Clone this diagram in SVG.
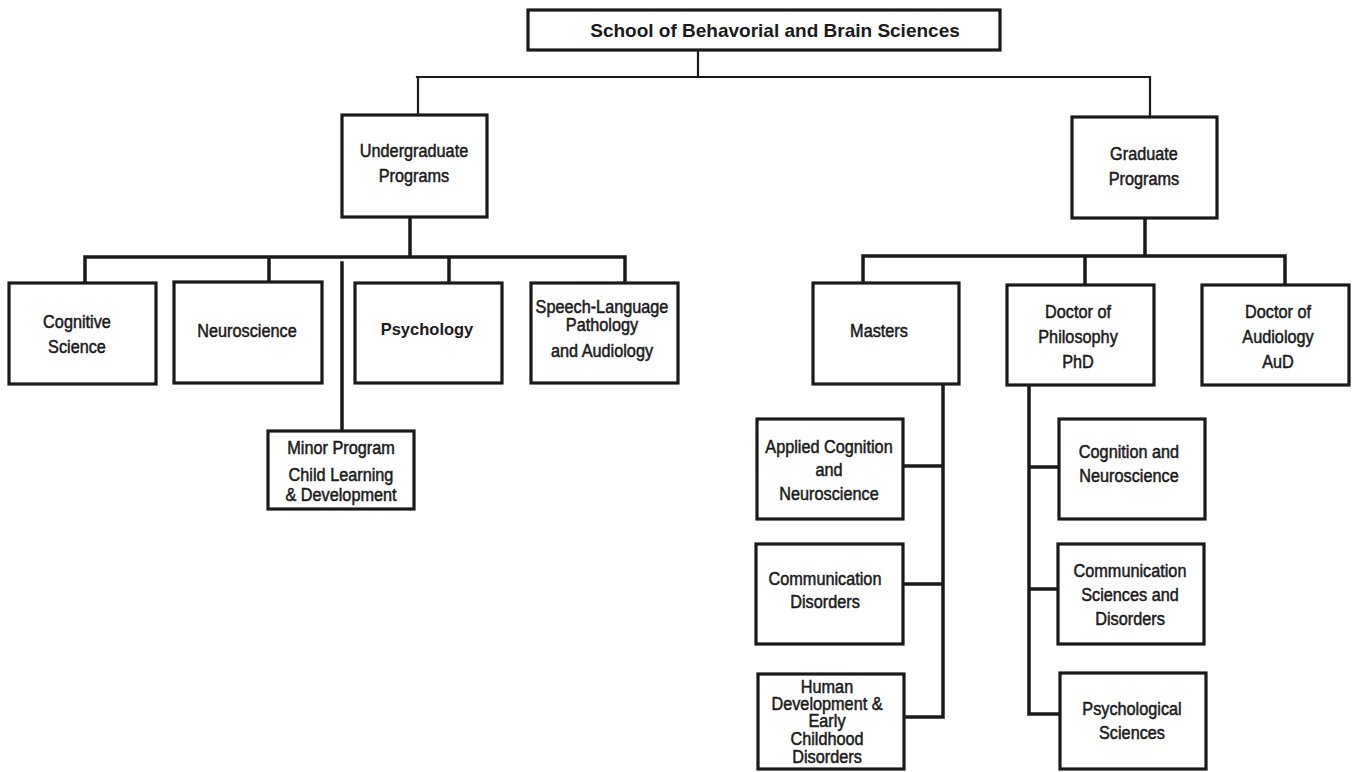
<svg xmlns="http://www.w3.org/2000/svg" width="1356" height="772" viewBox="0 0 1356 772">
<style>
.box{fill:#fff;stroke:#1a1a1a;stroke-width:3.2}
.ln{fill:none;stroke:#1a1a1a;stroke-width:3.5;stroke-linecap:square}
.thin{stroke-width:2.2}
text{font-family:"Liberation Sans",Arial,Helvetica,sans-serif;font-size:17.5px;fill:#1a1a1a;stroke:#1a1a1a;stroke-width:0.5;text-anchor:middle;transform-box:fill-box;transform-origin:center;transform:scaleX(0.93)}
.b{font-size:16.5px;font-weight:bold;stroke-width:0;transform:none}
.t{font-size:19px;font-weight:bold;stroke-width:0;transform:none}
</style>
<rect width="1356" height="772" fill="#fff"/>
<g id="connectors">
<path class="ln thin" d="M698 50V77M417 77H1150M418 77V115M1150 77V117"/>
<path class="ln" d="M410 217V257M85 257H625M85 257V283M269 257V282M449 257V283M625 257V283"/>
<path class="ln" d="M342 263V430"/>
<path class="ln" d="M1145 218V256M863 256H1285M863 256V283M1085 256V285M1285 256V285"/>
<path class="ln" d="M943 384V717M903 466H943M903 584H943M907 717H943"/>
<path class="ln" d="M1029 385V714M1029 467H1059M1029 589H1058M1029 714H1060"/>
</g>
<g id="n-school"><rect class="box" x="528" y="10" width="472" height="40"/><text class="t" x="775" y="37">School of Behavorial and Brain Sciences</text></g>
<g id="n-undergrad"><rect class="box" x="342" y="115" width="145" height="102"/><text x="414" y="157">Undergraduate</text><text x="414" y="182">Programs</text></g>
<g id="n-grad"><rect class="box" x="1072" y="117" width="145" height="101"/><text x="1144" y="160">Graduate</text><text x="1144" y="185">Programs</text></g>
<g id="n-cogsci"><rect class="box" x="9" y="283" width="147" height="101"/><text x="77" y="328">Cognitive</text><text x="77" y="353">Science</text></g>
<g id="n-neuro"><rect class="box" x="174" y="282" width="148" height="101"/><text x="247" y="337">Neuroscience</text></g>
<g id="n-psych"><rect class="box" x="355" y="283" width="147" height="100"/><text class="b" x="427" y="335">Psychology</text></g>
<g id="n-slp"><rect class="box" x="531" y="283" width="147" height="100"/><text x="602" y="313">Speech-Language</text><text x="602" y="331">Pathology</text><text x="602" y="357">and Audiology</text></g>
<g id="n-minor"><rect class="box" x="268" y="431" width="146" height="78"/><text x="341" y="454">Minor Program</text><text x="341" y="481">Child Learning</text><text x="341" y="501">&amp; Development</text></g>
<g id="n-masters"><rect class="box" x="813" y="283" width="146" height="101"/><text x="879" y="337">Masters</text></g>
<g id="n-phd"><rect class="box" x="1007" y="285" width="147" height="100"/><text x="1078" y="318">Doctor of</text><text x="1078" y="343">Philosophy</text><text x="1078" y="368">PhD</text></g>
<g id="n-aud"><rect class="box" x="1202" y="285" width="147" height="100"/><text x="1278" y="318">Doctor of</text><text x="1278" y="343">Audiology</text><text x="1278" y="368">AuD</text></g>
<g id="n-acn"><rect class="box" x="757" y="419" width="146" height="100"/><text x="829" y="453">Applied Cognition</text><text x="829" y="476">and</text><text x="829" y="500">Neuroscience</text></g>
<g id="n-cd"><rect class="box" x="756" y="544" width="147" height="100"/><text x="825" y="585">Communication</text><text x="825" y="608">Disorders</text></g>
<g id="n-hd"><rect class="box" x="758" y="674" width="146" height="95"/><text x="827" y="693">Human</text><text x="827" y="710">Development &amp;</text><text x="827" y="727">Early</text><text x="827" y="745">Childhood</text><text x="827" y="763">Disorders</text></g>
<g id="n-cn"><rect class="box" x="1059" y="419" width="146" height="100"/><text x="1129" y="458">Cognition and</text><text x="1129" y="482">Neuroscience</text></g>
<g id="n-csd"><rect class="box" x="1058" y="544" width="146" height="100"/><text x="1130" y="577">Communication</text><text x="1130" y="601">Sciences and</text><text x="1130" y="625">Disorders</text></g>
<g id="n-ps"><rect class="box" x="1060" y="673" width="146" height="96"/><text x="1132" y="715">Psychological</text><text x="1132" y="739">Sciences</text></g>
</svg>
